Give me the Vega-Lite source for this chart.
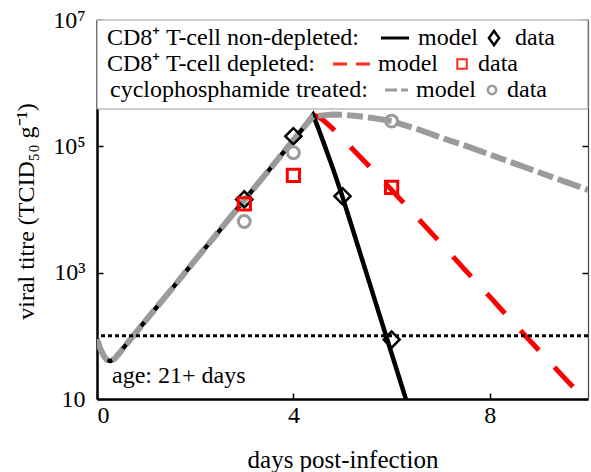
{
  "$schema": "https://vega.github.io/schema/vega-lite/v6.json",
  "width": 491,
  "height": 379,
  "autosize": {"type": "none"},
  "padding": {"left": 97, "top": 20, "right": 3, "bottom": 73},
  "background": "white",
  "config": {
    "view": {"stroke": null},
    "font": "Liberation Serif",
    "axis": {
      "labelFont": "Liberation Serif",
      "titleFont": "Liberation Serif",
      "labelFontSize": 24,
      "titleFontSize": 24,
      "labelColor": "black",
      "titleColor": "black",
      "titleFontWeight": "normal",
      "grid": false,
      "domainColor": "black",
      "tickColor": "black",
      "zindex": 1
    },
    "text": {"font": "Liberation Serif", "fontSize": 24, "color": "black"}
  },
  "datasets": {
    "model": [
      {"series": "non-depleted", "day": 0, "titre": 89.1},
      {"series": "non-depleted", "day": 0.05, "titre": 67.6},
      {"series": "non-depleted", "day": 0.1, "titre": 55.0},
      {"series": "non-depleted", "day": 0.15, "titre": 46.8},
      {"series": "non-depleted", "day": 0.2, "titre": 41.7},
      {"series": "non-depleted", "day": 0.27, "titre": 39.8},
      {"series": "non-depleted", "day": 0.35, "titre": 42.7},
      {"series": "non-depleted", "day": 0.45, "titre": 52.5},
      {"series": "non-depleted", "day": 0.53, "titre": 63.1},
      {"series": "non-depleted", "day": 1.0, "titre": 178},
      {"series": "non-depleted", "day": 1.5, "titre": 525},
      {"series": "non-depleted", "day": 2.0, "titre": 1585},
      {"series": "non-depleted", "day": 2.5, "titre": 4677},
      {"series": "non-depleted", "day": 3.0, "titre": 14125},
      {"series": "non-depleted", "day": 3.5, "titre": 41687},
      {"series": "non-depleted", "day": 4.0, "titre": 125893},
      {"series": "non-depleted", "day": 4.2, "titre": 194984},
      {"series": "non-depleted", "day": 4.4, "titre": 316228},
      {"series": "non-depleted", "day": 4.5, "titre": 199526},
      {"series": "non-depleted", "day": 4.6, "titre": 123027},
      {"series": "non-depleted", "day": 4.8, "titre": 45709},
      {"series": "non-depleted", "day": 5.0, "titre": 15849},
      {"series": "non-depleted", "day": 5.25, "titre": 3802},
      {"series": "non-depleted", "day": 5.5, "titre": 912},
      {"series": "non-depleted", "day": 5.75, "titre": 219},
      {"series": "non-depleted", "day": 6.0, "titre": 52.5},
      {"series": "non-depleted", "day": 6.29, "titre": 10},
      {"series": "depleted", "day": 4.4, "titre": 316228},
      {"series": "depleted", "day": 4.5, "titre": 295121},
      {"series": "depleted", "day": 4.6, "titre": 263027},
      {"series": "depleted", "day": 4.8, "titre": 190546},
      {"series": "depleted", "day": 5.0, "titre": 131826},
      {"series": "depleted", "day": 5.5, "titre": 52481},
      {"series": "depleted", "day": 6.0, "titre": 20417},
      {"series": "depleted", "day": 6.5, "titre": 7762},
      {"series": "depleted", "day": 7.0, "titre": 2951},
      {"series": "depleted", "day": 7.5, "titre": 1096},
      {"series": "depleted", "day": 8.0, "titre": 417},
      {"series": "depleted", "day": 8.5, "titre": 155},
      {"series": "depleted", "day": 9.0, "titre": 58.9},
      {"series": "depleted", "day": 9.5, "titre": 22.4},
      {"series": "depleted", "day": 9.93, "titre": 10},
      {"series": "cyclophosphamide", "day": 0, "titre": 89.1},
      {"series": "cyclophosphamide", "day": 0.05, "titre": 67.6},
      {"series": "cyclophosphamide", "day": 0.1, "titre": 55.0},
      {"series": "cyclophosphamide", "day": 0.15, "titre": 46.8},
      {"series": "cyclophosphamide", "day": 0.2, "titre": 41.7},
      {"series": "cyclophosphamide", "day": 0.27, "titre": 39.8},
      {"series": "cyclophosphamide", "day": 0.35, "titre": 42.7},
      {"series": "cyclophosphamide", "day": 0.45, "titre": 52.5},
      {"series": "cyclophosphamide", "day": 0.53, "titre": 63.1},
      {"series": "cyclophosphamide", "day": 1.0, "titre": 178},
      {"series": "cyclophosphamide", "day": 1.5, "titre": 525},
      {"series": "cyclophosphamide", "day": 2.0, "titre": 1585},
      {"series": "cyclophosphamide", "day": 2.5, "titre": 4677},
      {"series": "cyclophosphamide", "day": 3.0, "titre": 14125},
      {"series": "cyclophosphamide", "day": 3.5, "titre": 41687},
      {"series": "cyclophosphamide", "day": 4.0, "titre": 125893},
      {"series": "cyclophosphamide", "day": 4.2, "titre": 194984},
      {"series": "cyclophosphamide", "day": 4.4, "titre": 295121},
      {"series": "cyclophosphamide", "day": 4.6, "titre": 309030},
      {"series": "cyclophosphamide", "day": 4.8, "titre": 319890},
      {"series": "cyclophosphamide", "day": 5.0, "titre": 316228},
      {"series": "cyclophosphamide", "day": 5.3, "titre": 301995},
      {"series": "cyclophosphamide", "day": 5.6, "titre": 281838},
      {"series": "cyclophosphamide", "day": 6.0, "titre": 251189},
      {"series": "cyclophosphamide", "day": 6.5, "titre": 190546},
      {"series": "cyclophosphamide", "day": 7.0, "titre": 138038},
      {"series": "cyclophosphamide", "day": 7.5, "titre": 102329},
      {"series": "cyclophosphamide", "day": 8.0, "titre": 74131},
      {"series": "cyclophosphamide", "day": 8.5, "titre": 53703},
      {"series": "cyclophosphamide", "day": 9.0, "titre": 38905},
      {"series": "cyclophosphamide", "day": 9.5, "titre": 28184},
      {"series": "cyclophosphamide", "day": 10.0, "titre": 20417}
    ],
    "observed": [
      {"series": "non-depleted", "day": 3, "titre": 14454},
      {"series": "non-depleted", "day": 4, "titre": 144544},
      {"series": "non-depleted", "day": 5, "titre": 16218},
      {"series": "non-depleted", "day": 6, "titre": 87.1},
      {"series": "depleted", "day": 3, "titre": 12303},
      {"series": "depleted", "day": 4, "titre": 34674},
      {"series": "depleted", "day": 6, "titre": 22387},
      {"series": "cyclophosphamide", "day": 3, "titre": 6457},
      {"series": "cyclophosphamide", "day": 4, "titre": 79433},
      {"series": "cyclophosphamide", "day": 6, "titre": 251189}
    ],
    "legendBox": [{"day": 0, "day2": 10, "titre": 389900, "titre2": 10000000}],
    "legendText": [
      {"day": 0.204, "titre": 5188000, "label": "CD8⁺ T-cell non-depleted:"},
      {"day": 6.538, "titre": 5188000, "label": "model"},
      {"day": 8.513, "titre": 5188000, "label": "data"},
      {"day": 0.204, "titre": 2009000, "label": "CD8⁺ T-cell depleted:"},
      {"day": 5.723, "titre": 2009000, "label": "model"},
      {"day": 7.760, "titre": 2009000, "label": "data"},
      {"day": 0.265, "titre": 779800, "label": "cyclophosphamide treated:"},
      {"day": 6.497, "titre": 779800, "label": "model"},
      {"day": 8.350, "titre": 779800, "label": "data"},
      {"day": 0.305, "titre": 23.1, "label": "age: 21+ days"}
    ],
    "legendLines": [
      {"series": "non-depleted", "day": 5.784, "day2": 6.354, "titre": 5188000},
      {"series": "depleted", "day": 4.807, "day2": 5.560, "titre": 2009000},
      {"series": "cyclophosphamide", "day": 5.866, "day2": 6.334, "titre": 779800}
    ],
    "legendSymbols": [
      {"series": "non-depleted", "day": 8.086, "titre": 5188000},
      {"series": "depleted", "day": 7.434, "titre": 2009000},
      {"series": "cyclophosphamide", "day": 8.045, "titre": 779800}
    ],
    "limit": [{"titre": 100}]
  },
  "layer": [
    {
      "data": {"name": "model"},
      "transform": [{"filter": "datum.series == 'depleted'"}],
      "mark": {"type": "line", "color": "#ff0000", "strokeWidth": 5, "strokeDash": [27, 23], "clip": true},
      "encoding": {
        "x": {"field": "day", "type": "quantitative", "scale": {"domain": [0, 10], "nice": false, "zero": false}, "axis": null},
        "y": {"field": "titre", "type": "quantitative", "scale": {"type": "log", "domain": [10, 10000000], "nice": false}, "axis": null},
        "order": {"field": "day"}
      }
    },
    {
      "data": {"name": "model"},
      "transform": [{"filter": "datum.series == 'non-depleted'"}],
      "mark": {"type": "line", "color": "black", "strokeWidth": 4.5, "clip": true},
      "encoding": {
        "x": {"field": "day", "type": "quantitative", "scale": {"domain": [0, 10], "nice": false, "zero": false},
          "axis": {"orient": "bottom", "values": [0, 4, 8], "labelAngle": 0, "domainWidth": 2.5, "tickSize": -6, "tickWidth": 1.5, "labelPadding": 10, "title": "days post-infection", "titleFontSize": 25, "titleY": 60, "titleBaseline": "middle"}},
        "y": {"field": "titre", "type": "quantitative", "scale": {"type": "log", "domain": [10, 10000000], "nice": false},
          "axis": {"orient": "left", "values": [10, 1000, 100000, 10000000], "labelExpr": "datum.value == 10 ? '10' : datum.value == 1000 ? '10³' : datum.value == 100000 ? '10⁵' : '10⁷'", "domainWidth": 2.5, "tickSize": -6, "tickWidth": 1.5, "labelPadding": 18, "title": "viral titre (TCID₅₀ g⁻¹)", "titleX": -71, "titleY": 191, "titleBaseline": "middle"}},
        "order": {"field": "day"}
      }
    },
    {
      "data": {"name": "model"},
      "transform": [{"filter": "datum.series == 'cyclophosphamide'"}],
      "mark": {"type": "line", "color": "#9b9b9b", "strokeWidth": 6, "strokeDash": [24, 5, 16, 5], "clip": true},
      "encoding": {
        "x": {"field": "day", "type": "quantitative", "scale": {"domain": [0, 10], "nice": false, "zero": false}, "axis": null},
        "y": {"field": "titre", "type": "quantitative", "scale": {"type": "log", "domain": [10, 10000000], "nice": false}, "axis": null},
        "order": {"field": "day"}
      }
    },
    {
      "data": {"name": "limit"},
      "mark": {"type": "rule", "color": "black", "strokeWidth": 3, "strokeDash": [4, 3]},
      "encoding": {
        "y": {"field": "titre", "type": "quantitative", "scale": {"type": "log", "domain": [10, 10000000], "nice": false}, "axis": null}
      }
    },
    {
      "data": {"name": "observed"},
      "transform": [{"filter": "datum.series == 'non-depleted'"}],
      "mark": {"type": "point", "shape": "diamond", "filled": false, "color": "black", "strokeWidth": 2.5, "size": 260, "opacity": 1},
      "encoding": {
        "x": {"field": "day", "type": "quantitative", "scale": {"domain": [0, 10], "nice": false, "zero": false}, "axis": null},
        "y": {"field": "titre", "type": "quantitative", "scale": {"type": "log", "domain": [10, 10000000], "nice": false}, "axis": null}
      }
    },
    {
      "data": {"name": "observed"},
      "transform": [{"filter": "datum.series == 'depleted'"}],
      "mark": {"type": "point", "shape": "square", "filled": false, "color": "#ff0000", "strokeWidth": 3, "size": 150, "opacity": 1},
      "encoding": {
        "x": {"field": "day", "type": "quantitative", "scale": {"domain": [0, 10], "nice": false, "zero": false}, "axis": null},
        "y": {"field": "titre", "type": "quantitative", "scale": {"type": "log", "domain": [10, 10000000], "nice": false}, "axis": null}
      }
    },
    {
      "data": {"name": "observed"},
      "transform": [{"filter": "datum.series == 'cyclophosphamide'"}],
      "mark": {"type": "point", "shape": "circle", "filled": false, "color": "#9b9b9b", "strokeWidth": 3, "size": 140, "opacity": 1},
      "encoding": {
        "x": {"field": "day", "type": "quantitative", "scale": {"domain": [0, 10], "nice": false, "zero": false}, "axis": null},
        "y": {"field": "titre", "type": "quantitative", "scale": {"type": "log", "domain": [10, 10000000], "nice": false}, "axis": null}
      }
    },
    {
      "data": {"name": "legendBox"},
      "mark": {"type": "rect", "fill": "white", "stroke": "#999999", "strokeWidth": 1.2},
      "encoding": {
        "x": {"field": "day", "type": "quantitative", "scale": {"domain": [0, 10], "nice": false, "zero": false},
          "axis": {"orient": "top", "values": [0, 4, 8], "labels": false, "title": null, "domainWidth": 1.2, "domainColor": "#444444", "tickSize": -6, "tickWidth": 1.5}},
        "x2": {"field": "day2"},
        "y": {"field": "titre", "type": "quantitative", "scale": {"type": "log", "domain": [10, 10000000], "nice": false},
          "axis": {"orient": "right", "values": [10, 1000, 100000, 10000000], "labels": false, "title": null, "domainWidth": 1.2, "domainColor": "#444444", "tickSize": -6, "tickWidth": 1.5}},
        "y2": {"field": "titre2"}
      }
    },
    {
      "data": {"name": "legendLines"},
      "transform": [{"filter": "datum.series == 'non-depleted'"}],
      "mark": {"type": "rule", "color": "black", "strokeWidth": 3},
      "encoding": {
        "x": {"field": "day", "type": "quantitative", "scale": {"domain": [0, 10], "nice": false, "zero": false}, "axis": null},
        "x2": {"field": "day2"},
        "y": {"field": "titre", "type": "quantitative", "scale": {"type": "log", "domain": [10, 10000000], "nice": false}, "axis": null}
      }
    },
    {
      "data": {"name": "legendLines"},
      "transform": [{"filter": "datum.series == 'depleted'"}],
      "mark": {"type": "rule", "color": "#ff2a1a", "strokeWidth": 3, "strokeDash": [14, 9]},
      "encoding": {
        "x": {"field": "day", "type": "quantitative", "scale": {"domain": [0, 10], "nice": false, "zero": false}, "axis": null},
        "x2": {"field": "day2"},
        "y": {"field": "titre", "type": "quantitative", "scale": {"type": "log", "domain": [10, 10000000], "nice": false}, "axis": null}
      }
    },
    {
      "data": {"name": "legendLines"},
      "transform": [{"filter": "datum.series == 'cyclophosphamide'"}],
      "mark": {"type": "rule", "color": "#9b9b9b", "strokeWidth": 3, "strokeDash": [12, 4, 7, 4]},
      "encoding": {
        "x": {"field": "day", "type": "quantitative", "scale": {"domain": [0, 10], "nice": false, "zero": false}, "axis": null},
        "x2": {"field": "day2"},
        "y": {"field": "titre", "type": "quantitative", "scale": {"type": "log", "domain": [10, 10000000], "nice": false}, "axis": null}
      }
    },
    {
      "data": {"name": "legendSymbols"},
      "transform": [{"filter": "datum.series == 'non-depleted'"}],
      "mark": {"type": "point", "shape": "M0,-1L0.72,0L0,1L-0.72,0Z", "filled": false, "color": "black", "strokeWidth": 2.5, "size": 200, "opacity": 1},
      "encoding": {
        "x": {"field": "day", "type": "quantitative", "scale": {"domain": [0, 10], "nice": false, "zero": false}, "axis": null},
        "y": {"field": "titre", "type": "quantitative", "scale": {"type": "log", "domain": [10, 10000000], "nice": false}, "axis": null}
      }
    },
    {
      "data": {"name": "legendSymbols"},
      "transform": [{"filter": "datum.series == 'depleted'"}],
      "mark": {"type": "point", "shape": "square", "filled": false, "color": "#ff2a1a", "strokeWidth": 2, "size": 90, "opacity": 1},
      "encoding": {
        "x": {"field": "day", "type": "quantitative", "scale": {"domain": [0, 10], "nice": false, "zero": false}, "axis": null},
        "y": {"field": "titre", "type": "quantitative", "scale": {"type": "log", "domain": [10, 10000000], "nice": false}, "axis": null}
      }
    },
    {
      "data": {"name": "legendSymbols"},
      "transform": [{"filter": "datum.series == 'cyclophosphamide'"}],
      "mark": {"type": "point", "shape": "circle", "filled": false, "color": "#9b9b9b", "strokeWidth": 2.5, "size": 70, "opacity": 1},
      "encoding": {
        "x": {"field": "day", "type": "quantitative", "scale": {"domain": [0, 10], "nice": false, "zero": false}, "axis": null},
        "y": {"field": "titre", "type": "quantitative", "scale": {"type": "log", "domain": [10, 10000000], "nice": false}, "axis": null}
      }
    },
    {
      "data": {"name": "legendText"},
      "mark": {"type": "text", "align": "left", "baseline": "middle", "font": "Liberation Serif", "fontSize": 24, "color": "black"},
      "encoding": {
        "x": {"field": "day", "type": "quantitative", "scale": {"domain": [0, 10], "nice": false, "zero": false}, "axis": null},
        "y": {"field": "titre", "type": "quantitative", "scale": {"type": "log", "domain": [10, 10000000], "nice": false}, "axis": null},
        "text": {"field": "label"}
      }
    }
  ],
  "resolve": {"axis": {"x": "independent", "y": "independent"}}
}
